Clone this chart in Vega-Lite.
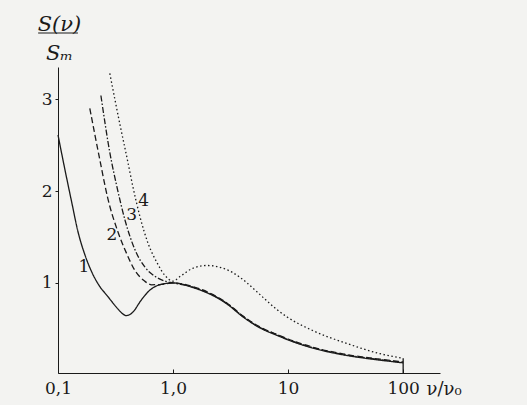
{
  "$schema": "https://vega.github.io/schema/vega-lite/v6.json",
  "autosize": "none",
  "width": 382,
  "height": 306,
  "padding": {"left": 58, "top": 67, "right": 87, "bottom": 32},
  "background": "#f3f3f1",
  "config": {
    "font": "DejaVu Serif",
    "view": {"stroke": null},
    "axis": {"grid": false, "domainColor": "#1a1a1a", "tickColor": "#1a1a1a", "labelColor": "#1a1a1a", "titleColor": "#1a1a1a", "labelFont": "DejaVu Serif", "titleFont": "DejaVu Serif"},
    "text": {"font": "DejaVu Serif"}
  },
  "datasets": {
    "curves": [
      {"c": "1", "x": 0.1, "y": 2.61},
      {"c": "1", "x": 0.115, "y": 2.23},
      {"c": "1", "x": 0.132, "y": 1.87},
      {"c": "1", "x": 0.149, "y": 1.56},
      {"c": "1", "x": 0.172, "y": 1.30},
      {"c": "1", "x": 0.198, "y": 1.11},
      {"c": "1", "x": 0.223, "y": 0.99},
      {"c": "1", "x": 0.272, "y": 0.85},
      {"c": "1", "x": 0.33, "y": 0.72},
      {"c": "1", "x": 0.36, "y": 0.67},
      {"c": "1", "x": 0.39, "y": 0.645},
      {"c": "1", "x": 0.42, "y": 0.655},
      {"c": "1", "x": 0.46, "y": 0.70},
      {"c": "1", "x": 0.513, "y": 0.79},
      {"c": "1", "x": 0.627, "y": 0.92},
      {"c": "1", "x": 0.764, "y": 0.98},
      {"c": "1", "x": 1.0, "y": 1.0},
      {"c": "1", "x": 1.49, "y": 0.95},
      {"c": "1", "x": 2.95, "y": 0.77},
      {"c": "1", "x": 4.06, "y": 0.63},
      {"c": "1", "x": 5.71, "y": 0.51},
      {"c": "1", "x": 8.0, "y": 0.43},
      {"c": "1", "x": 10, "y": 0.38},
      {"c": "1", "x": 16.5, "y": 0.29},
      {"c": "1", "x": 32.6, "y": 0.21},
      {"c": "1", "x": 63, "y": 0.16},
      {"c": "1", "x": 100, "y": 0.13},
      {"c": "2", "x": 0.189, "y": 2.90},
      {"c": "2", "x": 0.231, "y": 2.34},
      {"c": "2", "x": 0.271, "y": 1.92},
      {"c": "2", "x": 0.331, "y": 1.56},
      {"c": "2", "x": 0.395, "y": 1.32},
      {"c": "2", "x": 0.464, "y": 1.14},
      {"c": "2", "x": 0.566, "y": 1.02},
      {"c": "2", "x": 0.651, "y": 0.98},
      {"c": "2", "x": 0.795, "y": 0.985},
      {"c": "2", "x": 1.0, "y": 1.0},
      {"c": "2", "x": 1.49, "y": 0.96},
      {"c": "2", "x": 2.95, "y": 0.78},
      {"c": "2", "x": 4.06, "y": 0.64},
      {"c": "2", "x": 5.71, "y": 0.52},
      {"c": "2", "x": 8.0, "y": 0.44},
      {"c": "2", "x": 10, "y": 0.39},
      {"c": "2", "x": 16.5, "y": 0.30},
      {"c": "2", "x": 32.6, "y": 0.22},
      {"c": "2", "x": 63, "y": 0.17},
      {"c": "2", "x": 100, "y": 0.14},
      {"c": "3", "x": 0.236, "y": 3.04},
      {"c": "3", "x": 0.283, "y": 2.41},
      {"c": "3", "x": 0.326, "y": 2.04},
      {"c": "3", "x": 0.383, "y": 1.68},
      {"c": "3", "x": 0.467, "y": 1.36},
      {"c": "3", "x": 0.571, "y": 1.17},
      {"c": "3", "x": 0.70, "y": 1.07},
      {"c": "3", "x": 0.85, "y": 1.02},
      {"c": "3", "x": 1.0, "y": 1.0},
      {"c": "3", "x": 1.49, "y": 0.955},
      {"c": "3", "x": 2.95, "y": 0.775},
      {"c": "3", "x": 4.06, "y": 0.635},
      {"c": "3", "x": 5.71, "y": 0.515},
      {"c": "3", "x": 8.0, "y": 0.435},
      {"c": "3", "x": 10, "y": 0.385},
      {"c": "3", "x": 16.5, "y": 0.295},
      {"c": "3", "x": 32.6, "y": 0.215},
      {"c": "3", "x": 63, "y": 0.165},
      {"c": "3", "x": 100, "y": 0.135},
      {"c": "4", "x": 0.282, "y": 3.28},
      {"c": "4", "x": 0.346, "y": 2.72},
      {"c": "4", "x": 0.398, "y": 2.36},
      {"c": "4", "x": 0.449, "y": 2.04},
      {"c": "4", "x": 0.516, "y": 1.72},
      {"c": "4", "x": 0.607, "y": 1.43},
      {"c": "4", "x": 0.726, "y": 1.22},
      {"c": "4", "x": 0.852, "y": 1.08},
      {"c": "4", "x": 1.0, "y": 1.02},
      {"c": "4", "x": 1.15, "y": 1.07},
      {"c": "4", "x": 1.49, "y": 1.16},
      {"c": "4", "x": 1.98, "y": 1.19},
      {"c": "4", "x": 2.56, "y": 1.17},
      {"c": "4", "x": 3.33, "y": 1.11},
      {"c": "4", "x": 4.4, "y": 1.0},
      {"c": "4", "x": 5.4, "y": 0.90},
      {"c": "4", "x": 6.6, "y": 0.80},
      {"c": "4", "x": 8.0, "y": 0.71},
      {"c": "4", "x": 9.8, "y": 0.63},
      {"c": "4", "x": 16.5, "y": 0.48},
      {"c": "4", "x": 32.6, "y": 0.34},
      {"c": "4", "x": 63, "y": 0.23},
      {"c": "4", "x": 100, "y": 0.18}
    ],
    "labels": [
      {"t": "1", "x": 0.168, "y": 1.17},
      {"t": "2", "x": 0.294, "y": 1.52},
      {"t": "3", "x": 0.437, "y": 1.74},
      {"t": "4", "x": 0.556, "y": 1.89}
    ]
  },
  "layer": [
    {
      "data": {"name": "curves"},
      "mark": {"type": "line", "interpolate": "monotone", "color": "#1a1a1a", "strokeWidth": 1.3},
      "encoding": {
        "x": {
          "field": "x", "type": "quantitative",
          "scale": {"type": "log", "domain": [0.1, 209], "nice": false},
          "axis": {
            "values": [0.1, 1, 10, 100],
            "labelExpr": "datum.value == 0.1 ? '0,1' : datum.value == 1 ? '1,0' : datum.label",
            "labelFontSize": 17,
            "labelBaseline": "alphabetic",
            "labelPadding": 24,
            "tickSize": -4,
            "labelFlush": false,
            "labelOverlap": false,
            "title": "ν/ν₀",
            "titleFontSize": 18,
            "titleFontWeight": "normal",
            "titleAlign": "left",
            "titleBaseline": "alphabetic",
            "titleX": 368,
            "titleY": 21
          }
        },
        "y": {
          "field": "y", "type": "quantitative",
          "scale": {"domain": [0.02, 3.35], "nice": false, "zero": false},
          "axis": {
            "values": [1, 2, 3],
            "format": "d",
            "labelFontSize": 17,
            "tickSize": 3,
            "labelPadding": 3,
            "title": ["S(ν)", "Sₘ"],
            "titleAngle": 0,
            "titleAlign": "center",
            "titleBaseline": "alphabetic",
            "titleFontSize": 21,
            "titleFontStyle": "italic",
            "titleFontWeight": "normal",
            "titleLineHeight": 29,
            "titleX": 1,
            "titleY": -37
          }
        },
        "detail": {"field": "c"},
        "strokeDash": {
          "field": "c", "type": "nominal",
          "scale": {"domain": ["1", "2", "3", "4"], "range": [[1, 0], [6, 3], [6, 2, 1.5, 2], [1.5, 2.5]]},
          "legend": null
        }
      }
    },
    {
      "data": {"name": "labels"},
      "mark": {"type": "text", "fontSize": 17, "color": "#1a1a1a", "baseline": "middle", "align": "center"},
      "encoding": {
        "x": {"field": "x", "type": "quantitative"},
        "y": {"field": "y", "type": "quantitative"},
        "text": {"field": "t"}
      }
    },
    {
      "data": {"values": [{}]},
      "mark": {"type": "rule", "color": "#1a1a1a", "strokeWidth": 1.2},
      "encoding": {
        "x": {"datum": 0.0672},
        "x2": {"datum": 0.149},
        "y": {"datum": 3.72}
      }
    },
    {
      "data": {"values": [{}]},
      "mark": {"type": "rule", "color": "#1a1a1a", "strokeWidth": 1.3},
      "encoding": {
        "x": {"datum": 100},
        "y": {"datum": 0.02},
        "y2": {"datum": 0.18}
      }
    }
  ]
}
